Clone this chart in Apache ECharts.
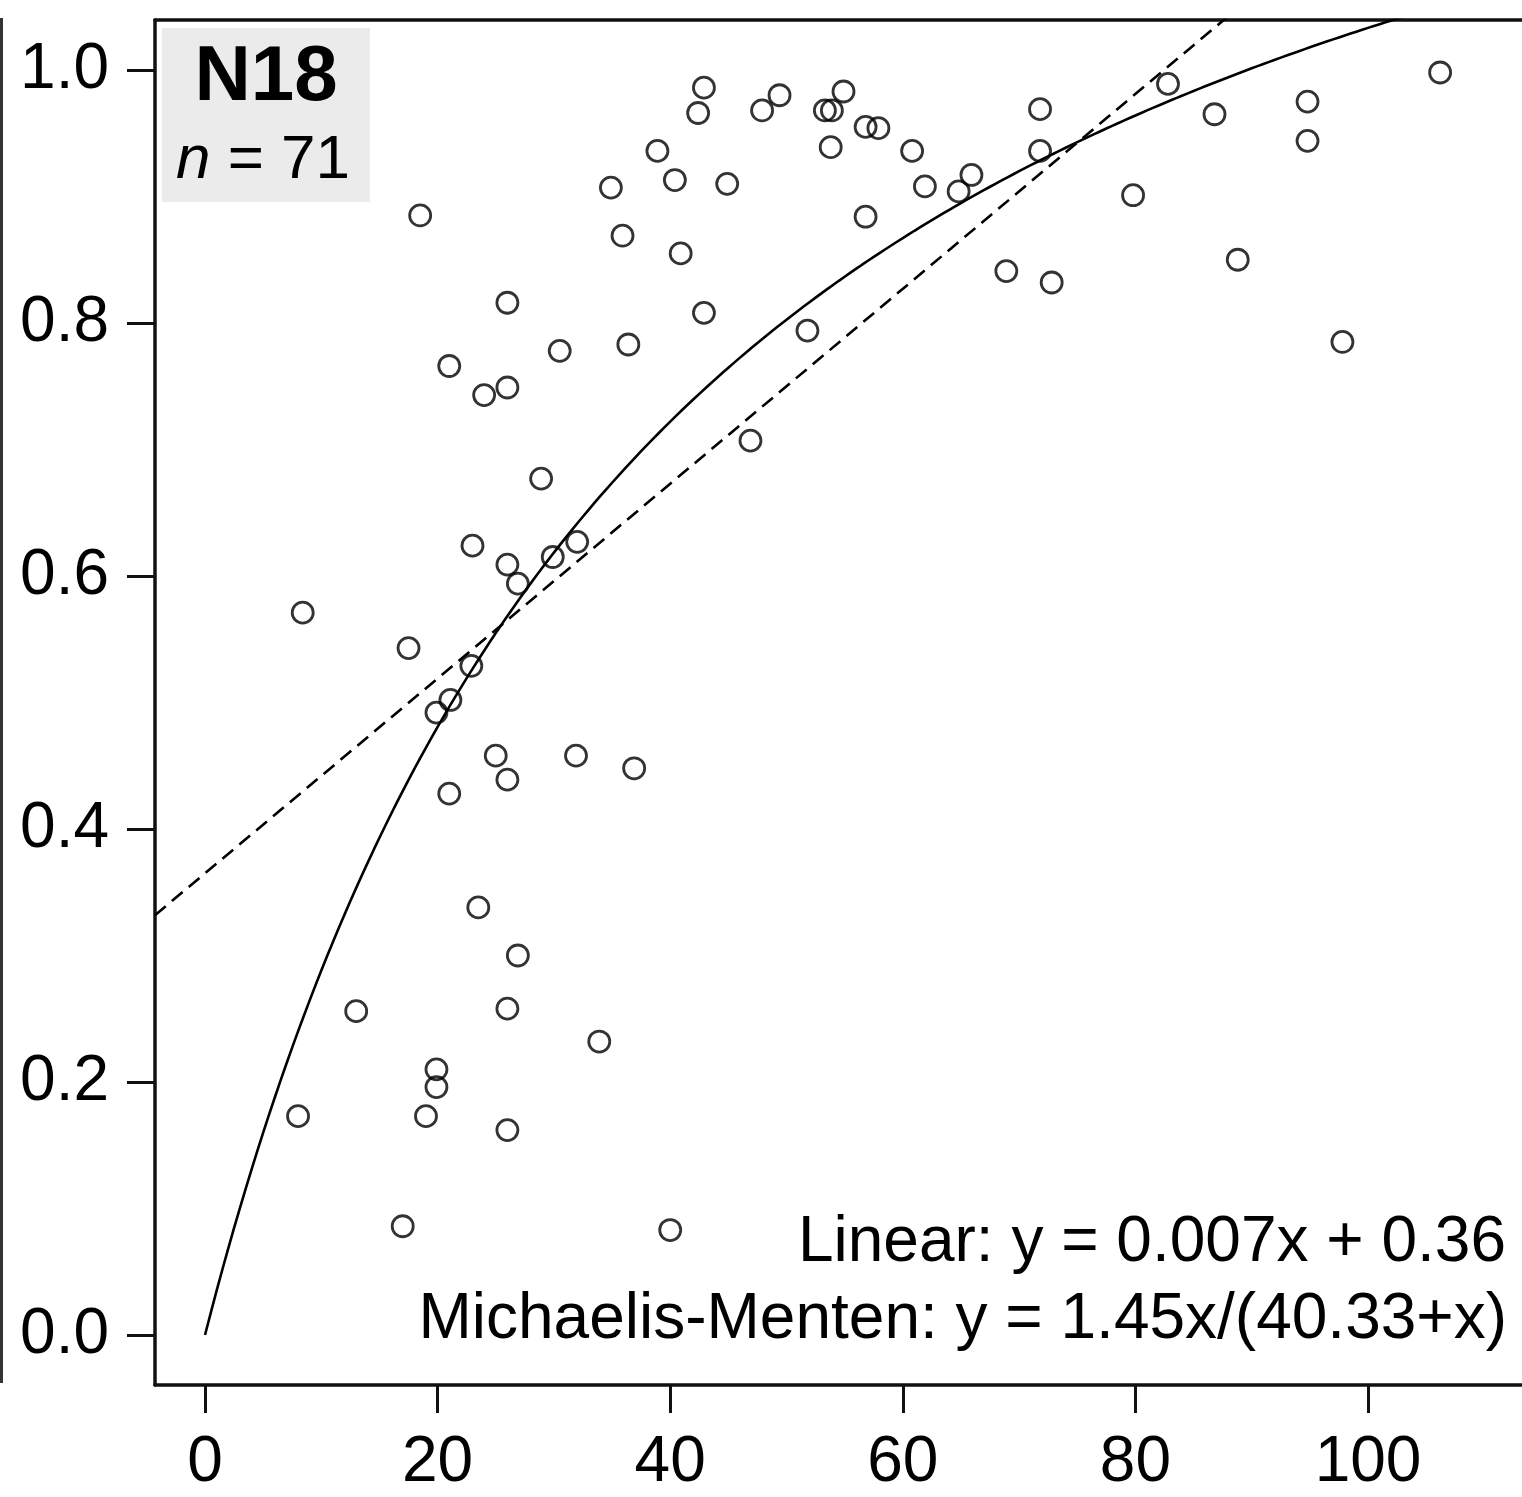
<!DOCTYPE html>
<html>
<head>
<meta charset="utf-8">
<title>N18</title>
<script src="https://cdn.jsdelivr.net/npm/echarts@6/dist/echarts.min.js"></script>
<style>
html, body { margin: 0; padding: 0; background: #fff; }
#main { width: 1522px; height: 1497px; }
</style>
</head>
<body>
<div id="main"></div>
<script>
// points
var xVals = [8.4, 8.0, 13.0, 17.0, 17.5, 18.5, 19.0, 19.9, 19.9, 19.9,
	21.0, 21.0, 21.1, 22.9, 23.0, 23.5, 24.0, 25.0, 26.0, 26.0,
	26.0, 26.0, 26.0, 26.0, 26.9, 26.9, 28.9, 29.9, 30.5, 31.9,
	32.0, 33.9, 34.9, 35.9, 36.4, 36.9, 38.9, 40.0, 40.4, 40.9,
	42.4, 42.9, 42.9, 44.9, 46.9, 47.9, 49.4, 51.8, 53.3, 53.9,
	53.8, 54.9, 56.8, 56.8, 57.9, 60.8, 61.9, 64.8, 65.9, 68.9,
	71.8, 71.8, 72.8, 79.8, 82.8, 86.8, 88.8, 94.8, 94.8, 97.8, 106.2];
var yVals = [0.571, 0.173, 0.256, 0.086, 0.543, 0.885, 0.173, 0.210, 0.196, 0.492,
	0.766, 0.428, 0.502, 0.529, 0.624, 0.338, 0.743, 0.458, 0.816, 0.749,
	0.609, 0.439, 0.258, 0.162, 0.594, 0.300, 0.677, 0.615, 0.778, 0.458,
	0.627, 0.232, 0.907, 0.869, 0.783, 0.448, 0.936, 0.083, 0.913, 0.855,
	0.966, 0.986, 0.808, 0.910, 0.707, 0.968, 0.980, 0.794, 0.968, 0.968,
	0.939, 0.983, 0.884, 0.955, 0.954, 0.936, 0.908, 0.904, 0.917, 0.841,
	0.969, 0.936, 0.832, 0.901, 0.989, 0.965, 0.850, 0.975, 0.944, 0.785, 0.998];

var xTicks = [0, 20, 40, 60, 80, 100];
var yTicks = [0, 0.2, 0.4, 0.6, 0.8, 1.0];

// fitted models (dashed line as drawn in the picture, curve from printed equation)
var linSlope = 0.0077;
var linIntercept = 0.365;
var mmVmax = 1.45;
var mmKm = 40.33;

var xMin = -4.3, xMax = 113.24;
var yMin = -0.0395, yMax = 1.0395;

var points = [];
for (var i = 0; i < xVals.length; i++) {
	points.push([xVals[i], yVals[i]]);
}

var linData = [[xMin, linSlope * xMin + linIntercept], [xMax, linSlope * xMax + linIntercept]];

var mmData = [];
for (var x = 0; x <= xMax; x += 0.5) {
	mmData.push([x, mmVmax * x / (mmKm + x)]);
}

var font = '"Liberation Sans", Arial, sans-serif';
var frame = { show: true, onZero: false, lineStyle: { color: '#111', width: 3.5 } };

var myChart = echarts.init(document.getElementById('main'));
var option = {
	animation: false,
	backgroundColor: '#fff',
	grid: { left: 155, top: 20, right: 0, bottom: 112 },
	xAxis: [{
		type: 'value',
		min: xMin,
		max: xMax,
		splitLine: { show: false },
		axisLine: frame,
		axisTick: { show: true, length: 28, lineStyle: { color: '#111', width: 3 }, customValues: xTicks },
		axisLabel: { customValues: xTicks, margin: 46, fontSize: 64, color: '#000', fontFamily: font }
	}, {
		type: 'value',
		position: 'top',
		min: xMin,
		max: xMax,
		splitLine: { show: false },
		axisLine: frame,
		axisTick: { show: false },
		axisLabel: { show: false }
	}],
	yAxis: {
		type: 'value',
		min: yMin,
		max: yMax,
		splitLine: { show: false },
		axisLine: frame,
		axisTick: { show: true, length: 28, lineStyle: { color: '#111', width: 3 }, customValues: yTicks },
		axisLabel: {
			customValues: yTicks, margin: 46, fontSize: 64, color: '#000', fontFamily: font,
			formatter: function(v) { return v.toFixed(1); }
		}
	},
	series: [{
		type: 'line',
		data: linData,
		showSymbol: false,
		lineStyle: { color: '#000', width: 2.6, type: [14, 8] },
		z: 2
	}, {
		type: 'line',
		data: mmData,
		showSymbol: false,
		lineStyle: { color: '#000', width: 2.6 },
		z: 2
	}, {
		type: 'scatter',
		data: points,
		symbol: 'circle',
		symbolSize: 21,
		itemStyle: { color: 'rgba(255,255,255,0)', borderColor: '#000', borderWidth: 2.8 },
		z: 3
	}],
	graphic: [{
		type: 'line',
		shape: { x1: 1.5, y1: 18, x2: 1.5, y2: 1383 },
		style: { stroke: '#333', lineWidth: 3 }
	}, {
		type: 'rect',
		shape: { x: 162, y: 28, width: 208, height: 174 },
		style: { fill: '#ebebeb' },
		z: 10
	}, {
		type: 'text',
		x: 266, y: 78,
		style: { text: 'N18', font: 'bold 78px ' + font, fill: '#000', textAlign: 'center', textVerticalAlign: 'middle' },
		z: 11
	}, {
		type: 'text',
		x: 263, y: 161,
		style: {
			text: '{i|n} = 71', font: '62px ' + font, fill: '#000', textAlign: 'center', textVerticalAlign: 'middle',
			rich: { i: { fontStyle: 'italic', fontSize: 62, fontFamily: font } }
		},
		z: 11
	}, {
		type: 'text',
		x: 1506, y: 1243,
		style: { text: 'Linear: y = 0.007x + 0.36', font: '64px ' + font, fill: '#000', textAlign: 'right', textVerticalAlign: 'middle' },
		z: 11
	}, {
		type: 'text',
		x: 1507, y: 1320,
		style: { text: 'Michaelis-Menten: y = 1.45x/(40.33+x)', font: '64px ' + font, fill: '#000', textAlign: 'right', textVerticalAlign: 'middle' },
		z: 11
	}]
};
myChart.setOption(option);
</script>
</body>
</html>
